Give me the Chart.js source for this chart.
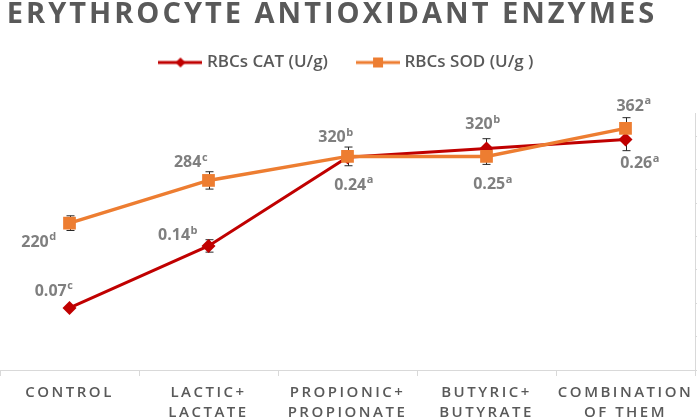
<!DOCTYPE html>
<html>
<head>
<meta charset="utf-8">
<script src="https://cdn.jsdelivr.net/npm/chart.js@4"></script>
<style>
  html, body { margin: 0; padding: 0; background: #fff; }
  #wrap { width: 697px; height: 418px; }
</style>
</head>
<body>
<div id="wrap"><canvas id="myChart"></canvas></div>
<script>
// data
const categories = [['CONTROL'], ['LACTIC+', 'LACTATE'], ['PROPIONIC+', 'PROPIONATE'], ['BUTYRIC+', 'BUTYRATE'], ['COMBINATION', 'OF THEM']];
const catValues = [0.07, 0.14, 0.24, 0.25, 0.26];
const catErrors = [0, 0.007, 0, 0.011, 0.0125];
const catLetters = ['c', 'b', 'a', 'a', 'a'];
const sodValues = [220, 284, 320, 320, 362];
const sodErrors = [11, 13, 14, 12, 16];
const sodLetters = ['d', 'c', 'b', 'b', 'a'];

// label placement (offset from the point, px)
const catLabelOffsets = [[-16, -17], [-31, -10], [6, 28], [6, 36], [14, 24]];
const sodLabelOffsets = [[-31, 19], [-18, -18], [-12, -19], [-4, -32], [8, -22]];

const FONT = "'Open Sans', sans-serif";
const RED = '#C00000';
const ORANGE = '#ED7D31';

// legend icons: line with marker
function makeIcon(color, shape) {
    const c = document.createElement('canvas');
    c.width = 44; c.height = 16;
    const g = c.getContext('2d');
    g.strokeStyle = color; g.fillStyle = color; g.lineWidth = 3;
    g.beginPath(); g.moveTo(0, 8); g.lineTo(44, 8); g.stroke();
    g.beginPath();
    if (shape === 'diamond') {
        g.moveTo(22, 3); g.lineTo(27, 8); g.lineTo(22, 13); g.lineTo(17, 8);
    } else {
        g.rect(17, 3, 10, 10);
    }
    g.closePath(); g.fill();
    return c;
}
const legendIcons = [makeIcon(RED, 'diamond'), makeIcon(ORANGE, 'square')];

const errorBars = {
    id: 'errorBars',
    beforeDatasetsDraw(chart) {
        const ctx = chart.ctx;
        ctx.save();
        ctx.strokeStyle = '#262626';
        ctx.lineWidth = 1;
        chart.data.datasets.forEach((ds, i) => {
            const meta = chart.getDatasetMeta(i);
            const ys = chart.scales[ds.yAxisID];
            meta.data.forEach((pt, j) => {
                const e = ds.errors[j];
                if (!e) return;
                const top = ys.getPixelForValue(ds.data[j] + e);
                const bot = ys.getPixelForValue(ds.data[j] - e);
                const x = Math.round(pt.x) + 0.5;
                ctx.beginPath();
                ctx.moveTo(x, top); ctx.lineTo(x, bot);
                ctx.moveTo(x - 4, top); ctx.lineTo(x + 4, top);
                ctx.moveTo(x - 4, bot); ctx.lineTo(x + 4, bot);
                ctx.stroke();
            });
        });
        ctx.restore();
    }
};

const valueLabels = {
    id: 'valueLabels',
    afterDatasetsDraw(chart) {
        const ctx = chart.ctx;
        ctx.save();
        ctx.fillStyle = '#7f7f7f';
        ctx.textBaseline = 'middle';
        ctx.textAlign = 'left';
        chart.data.datasets.forEach((ds, i) => {
            const meta = chart.getDatasetMeta(i);
            meta.data.forEach((pt, j) => {
                const main = ds.labelText[j];
                const sup = ds.letters[j];
                ctx.font = 'bold 16px ' + FONT;
                const w1 = ctx.measureText(main).width;
                ctx.font = 'bold 11px ' + FONT;
                const w2 = ctx.measureText(sup).width;
                const cx = pt.x + ds.labelOffsets[j][0];
                const cy = pt.y + ds.labelOffsets[j][1];
                const x0 = cx - (w1 + w2) / 2;
                ctx.font = 'bold 16px ' + FONT;
                ctx.fillText(main, x0, cy);
                ctx.font = 'bold 11px ' + FONT;
                ctx.fillText(sup, x0 + w1 + 0.5, cy - 5);
            });
        });
        ctx.restore();
    }
};

// spacing tweaks: letter spacing for title and x labels, gap below legend
const tweaks = {
    id: 'tweaks',
    afterInit(chart) {
        const lg = chart.legend;
        const fit = lg.fit;
        lg.fit = function () { fit.apply(this, arguments); this.height += 32; };
        const tb = chart.titleBlock;
        const tdraw = tb.draw;
        tb.draw = function () {
            const c = this.ctx; c.save(); c.letterSpacing = '3px'; c.translate(-16, 0);
            tdraw.apply(this, arguments); c.restore();
        };
    },
    afterUpdate(chart) {
        const s = chart.scales.x;
        if (s && !s._spaced) {
            const dl = s.drawLabels;
            s.drawLabels = function () {
                const c = this.ctx; c.save(); c.letterSpacing = '2.5px';
                dl.apply(this, arguments); c.restore();
            };
            s._spaced = true;
        }
    }
};

const ctx = document.getElementById('myChart');
const myChart = new Chart(ctx, {
    type: 'line',
    data: {
        labels: categories,
        datasets: [{
            label: 'RBCs CAT (U/g)',
            data: catValues,
            errors: catErrors,
            letters: catLetters,
            labelText: catValues.map(v => v.toFixed(2)),
            labelOffsets: catLabelOffsets,
            yAxisID: 'y',
            borderColor: RED,
            backgroundColor: RED,
            borderWidth: 3,
            pointStyle: 'rectRot',
            pointRadius: 7,
            pointBorderWidth: 0,
            tension: 0,
            order: 1
        }, {
            label: 'RBCs SOD (U/g )',
            data: sodValues,
            errors: sodErrors,
            letters: sodLetters,
            labelText: sodValues.map(v => String(v)),
            labelOffsets: sodLabelOffsets,
            yAxisID: 'y1',
            borderColor: ORANGE,
            backgroundColor: ORANGE,
            borderWidth: 3.5,
            pointStyle: 'rect',
            pointRadius: 9,
            pointBorderWidth: 0,
            tension: 0,
            order: 0
        }]
    },
    options: {
        responsive: true,
        maintainAspectRatio: false,
        animation: false,
        layout: { autoPadding: false, padding: { left: -3, right: -2, top: 0, bottom: 0 } },
        plugins: {
            title: {
                display: true,
                text: 'ERYTHROCYTE ANTIOXIDANT ENZYMES',
                color: '#595959',
                font: { family: FONT, size: 29, weight: 'bold', lineHeight: 1 },
                padding: { top: 0, bottom: -7 }
            },
            legend: {
                display: true,
                labels: {
                    color: '#595959',
                    font: { family: FONT, size: 17, weight: '600' },
                    usePointStyle: true,
                    pointStyleWidth: 36,
                    padding: 32,
                    generateLabels: (chart) => chart.data.datasets.map((ds, i) => ({
                        text: ds.label,
                        fillStyle: ds.borderColor,
                        strokeStyle: ds.borderColor,
                        lineWidth: 0,
                        pointStyle: legendIcons[i],
                        hidden: false,
                        datasetIndex: i,
                        fontColor: '#595959'
                    }))
                }
            },
            tooltip: { enabled: false }
        },
        scales: {
            x: {
                offset: true,
                grid: { display: true, drawOnChartArea: false, drawTicks: true, tickLength: 6, color: '#d9d9d9', offset: true },
                border: { display: true, color: '#d9d9d9' },
                ticks: { color: '#595959', font: { family: FONT, size: 15, weight: '600', lineHeight: 1.33 }, padding: 7, maxRotation: 0, autoSkip: false },
                afterFit(scale) {
                    scale.paddingLeft = -3;
                    scale.paddingRight = -2;
                    scale.height = 48;
                }
            },
            y: {
                display: false,
                min: 0,
                max: 0.29
            },
            y1: {
                position: 'right',
                min: 0,
                max: 385,
                ticks: { display: false, stepSize: 50, includeBounds: false },
                grid: { drawOnChartArea: false, drawTicks: true, tickLength: 4, color: '#d9d9d9' },
                border: { display: true, color: '#d9d9d9' }
            }
        }
    },
    plugins: [errorBars, valueLabels, tweaks]
});
</script>
</body>
</html>
